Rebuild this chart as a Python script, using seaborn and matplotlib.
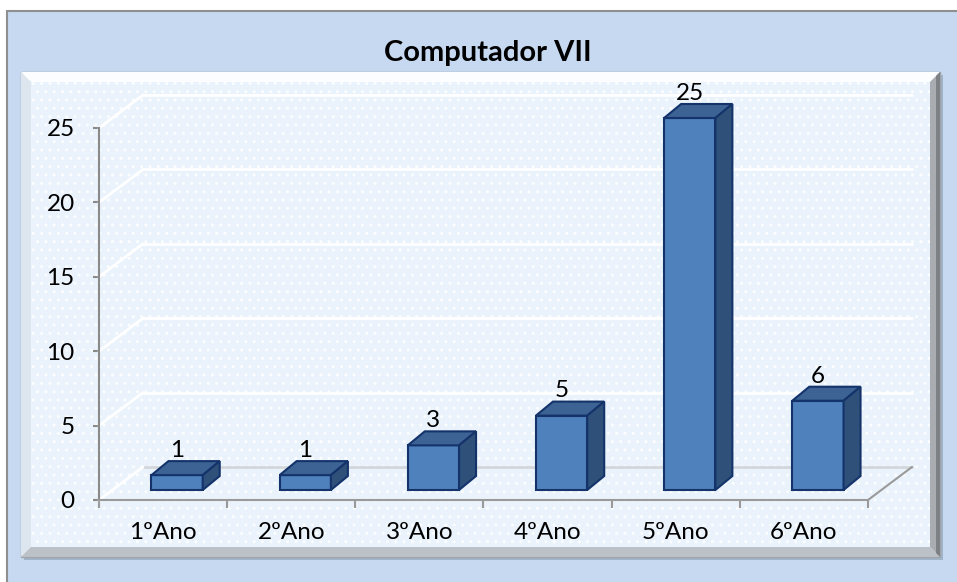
import matplotlib
matplotlib.use('Agg')
import matplotlib.pyplot as plt
import matplotlib.transforms as mtransforms
from matplotlib.patches import Polygon
import seaborn as sns

# dados
anos = ['1ºAno', '2ºAno', '3ºAno', '4ºAno', '5ºAno', '6ºAno']
valores = [1, 1, 3, 5, 25, 6]
yticks = [0, 5, 10, 15, 20, 25]
titulo = 'Computador VII'

sns.set_theme(style='white')
plt.rcParams['font.family'] = ['Lato', 'DejaVu Sans']
plt.rcParams['hatch.linewidth'] = 1.0

W, H = 957, 582
fig = plt.figure(figsize=(W / 100, H / 100), dpi=100)
fig.patch.set_facecolor('white')


def fx(x):
    return x / W


def fy(y):
    return 1 - y / H


def fig_poly(pts, **kw):
    p = Polygon([(fx(a), fy(b)) for a, b in pts], closed=True,
                transform=fig.transFigure, **kw)
    fig.add_artist(p)
    return p


# fundo externo
fig_poly([(7, 11), (W + 5, 11), (W + 5, H + 5), (7, H + 5)],
         facecolor='#c6d9f0', edgecolor='#8f8f8f', lw=1.5, zorder=0)

# painel com bisel
L, T, R, B, bw = 21, 72, 940, 557, 10
fig_poly([(L + 3, T + 3), (R + 3, T + 3), (R + 3, B + 3), (L + 3, B + 3)],
         facecolor='#9fb3c9', edgecolor='none', zorder=0.5)
fig_poly([(L, T), (R, T), (R, B), (L, B)], facecolor='#e9f2fb',
         edgecolor='#a0a4a8', lw=1, zorder=0.6)
fig_poly([(L, T), (R, T), (R - bw, T + bw), (L + bw, T + bw)],
         facecolor='#fbfdff', edgecolor='none', zorder=0.7)
fig_poly([(L, T), (L + bw, T + bw), (L + bw, B - bw), (L, B)],
         facecolor='#dde5ee', edgecolor='none', zorder=0.7)
fig_poly([(R, T), (R, B), (R - bw, B - bw), (R - bw, T + bw)],
         facecolor='#a9adb2', edgecolor='none', zorder=0.7)
fig_poly([(R, T), (R, B), (R - 4, B - 4), (R - 4, T + 4)],
         facecolor='#7d8186', edgecolor='none', zorder=0.75)
fig_poly([(L, B), (R, B), (R - bw, B - bw), (L + bw, B - bw)],
         facecolor='#bcc1c7', edgecolor='none', zorder=0.7)
fig_poly([(L + bw, T + bw), (R - bw, T + bw), (R - bw, B - bw), (L + bw, B - bw)],
         facecolor='#eaf3fc', edgecolor='#fbfdff', lw=0, hatch='..', zorder=0.8)

# eixos: plano frontal
x_left, x_right, y0_px, px_unit, ymax = 99, 868, 500, 14.88, 28
ax = fig.add_axes([fx(x_left), fy(y0_px), (x_right - x_left) / W,
                   ymax * px_unit / H])
ax.set_facecolor('none')
ax.set_zorder(2)

sns.barplot(x=anos, y=valores, ax=ax, width=0.4, color='#4f81bd',
            saturation=1, edgecolor='#14336b', linewidth=1.5, zorder=3)
ax.set_xlim(-0.5, len(anos) - 0.5)
ax.set_ylim(0, ymax)


def px_to_data(dx, dy):
    inv = ax.transData.inverted()
    a = inv.transform((0, 0))
    b = inv.transform((dx, dy))
    return b[0] - a[0], b[1] - a[1]


# parede de fundo
bdx, bdy = px_to_data(44, 33)
for v in yticks:
    cor = '#d3d6da' if v == 0 else 'white'
    ax.plot([-0.5 + bdx, len(anos) - 0.5 + bdx], [v + bdy, v + bdy],
            color=cor, lw=2, zorder=1, clip_on=False)
    ax.plot([-0.5, -0.5 + bdx], [v, v + bdy], color='white', lw=2,
            zorder=1, clip_on=False)
ax.plot([len(anos) - 0.5, len(anos) - 0.5 + bdx], [0, bdy], color='#9a9a9a',
        lw=1.5, zorder=1, clip_on=False)

# barras 3D
off = mtransforms.ScaledTranslation(0.14, 0.10, fig.dpi_scale_trans)
tr = ax.transData + off
ddx, ddy = px_to_data(17, 14)
for p, v in zip(ax.patches, valores):
    p.set_transform(tr)
    p.set_clip_on(False)
    x0, w, h = p.get_x(), p.get_width(), p.get_height()
    topo = Polygon([(x0, h), (x0 + w, h), (x0 + w + ddx, h + ddy), (x0 + ddx, h + ddy)],
                   closed=True, transform=tr, facecolor='#3c6394',
                   edgecolor='#14336b', lw=1.5, zorder=3, clip_on=False)
    lado = Polygon([(x0 + w, 0), (x0 + w, h), (x0 + w + ddx, h + ddy), (x0 + w + ddx, ddy)],
                   closed=True, transform=tr, facecolor='#2f5078',
                   edgecolor='#14336b', lw=1.5, zorder=3, clip_on=False)
    ax.add_patch(topo)
    ax.add_patch(lado)
    ax.annotate(str(v), xy=(x0 + w / 2, h + ddy), xycoords=tr,
                xytext=(0, 3), textcoords='offset points', ha='center',
                va='baseline', fontsize=17.5, color='black', zorder=4)

# eixos
for s in ['top', 'right']:
    ax.spines[s].set_visible(False)
ax.spines['left'].set_bounds(0, 25)
ax.spines['left'].set_color('#8a8a8a')
ax.spines['bottom'].set_color('#9a9a9a')
ax.spines['left'].set_linewidth(1.5)
ax.spines['bottom'].set_linewidth(1.5)
ax.set_yticks(yticks)
ax.tick_params(axis='y', left=True, direction='out', length=4.5, width=1.5,
               color='#8a8a8a', labelsize=17.5, pad=13, labelcolor='black')
ax.set_xticks(range(len(anos)))
ax.set_xticks([i - 0.5 for i in range(len(anos) + 1)], minor=True)
ax.tick_params(axis='x', which='major', length=0, labelsize=17.5, pad=16,
               labelcolor='black')
ax.tick_params(axis='x', which='minor', bottom=True, direction='out',
               length=5.5, width=1.5, color='#9a9a9a')
ax.set_xlabel('')
ax.set_ylabel('')

fig.text(fx(488), fy(53), titulo, ha='center', va='center', fontsize=21,
         fontweight='bold', color='black')

fig.savefig('out.png', dpi=100)
